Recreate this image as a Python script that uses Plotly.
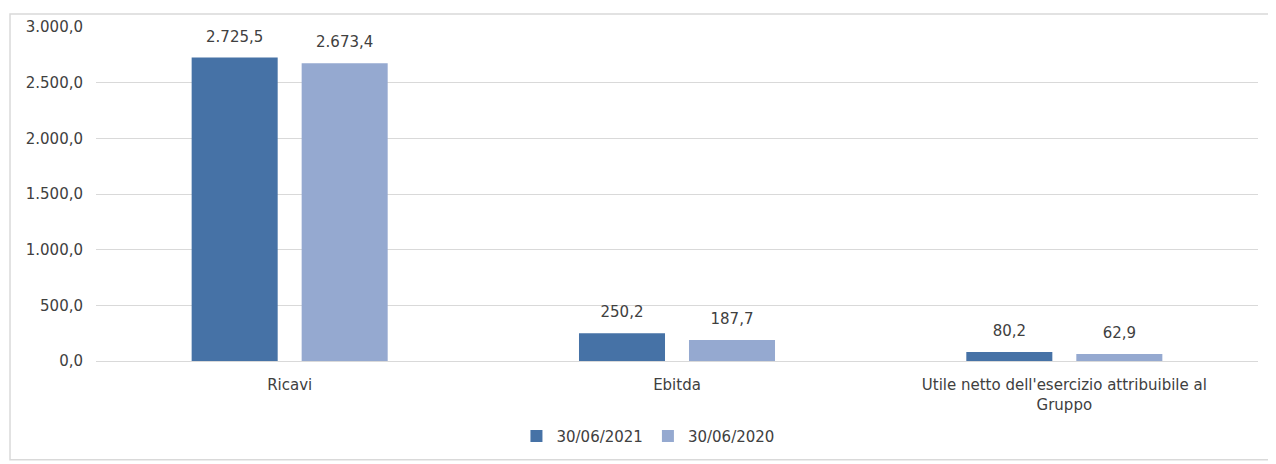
import plotly.graph_objects as go

categories = ["Ricavi", "Ebitda", "Utile netto dell'esercizio attribuibile al<br>Gruppo"]
series_names = ["30/06/2021", "30/06/2020"]
values_2021 = [2725.5, 250.2, 80.2]
values_2020 = [2673.4, 187.7, 62.9]
y_ticks = [0, 500, 1000, 1500, 2000, 2500, 3000]

colors = ["#4672A6", "#95A9D0"]
font_family = "DejaVu Sans, sans-serif"
txt = "#404040"

fig = go.Figure()
for i, (name, vals, col) in enumerate(zip(series_names, [values_2021, values_2020], colors)):
    fig.add_trace(go.Bar(
        x=categories, y=vals, name=name, marker_color=col,
        marker_line_width=0, offsetgroup=str(i),
    ))
for i, (name, vals) in enumerate(zip(series_names, [values_2021, values_2020])):
    fig.add_trace(go.Scatter(
        x=categories, y=vals, mode="markers+text", showlegend=False,
        offsetgroup=str(i), hoverinfo="skip",
        marker=dict(size=18, color="rgba(0,0,0,0)"),
        texttemplate="%{y:,.1f}", textposition="top center",
        textfont=dict(size=15, color=txt, family=font_family),
        cliponaxis=False,
    ))

fig.update_layout(
    width=1268, height=456,
    margin=dict(l=88, r=18, t=19, b=103, autoexpand=False),
    paper_bgcolor="white", plot_bgcolor="white",
    separators=",.",
    barmode="group", bargap=0.432, bargroupgap=0.218,
    scattermode="group", scattergap=0.432,
    font=dict(family=font_family, size=15, color=txt),
    showlegend=True,
    legend=dict(orientation="h", x=0.475, xanchor="center",
                yref="container", y=0.061, yanchor="middle",
                font=dict(size=15, color=txt), traceorder="normal"),
    xaxis=dict(showgrid=False, showline=False, ticks="", automargin=False,
               ticklabelstandoff=13, tickfont=dict(size=15, color=txt)),
    yaxis=dict(range=[0, 3000], tickvals=y_ticks, tickformat=",.1f", automargin=False,
               showgrid=True, gridcolor="#D9D9D9", gridwidth=1,
               zeroline=True, zerolinecolor="#D9D9D9", zerolinewidth=1,
               showline=False, ticks="", ticklabelstandoff=12,
               tickfont=dict(size=15, color=txt)),
    shapes=[dict(type="rect", xref="paper", yref="paper",
                 x0=-0.074, x1=1.012, y0=-0.296, y1=1.039,
                 line=dict(color="#D9D9D9", width=1.5), fillcolor="rgba(0,0,0,0)", layer="below")],
)

fig.write_html("out.html")
